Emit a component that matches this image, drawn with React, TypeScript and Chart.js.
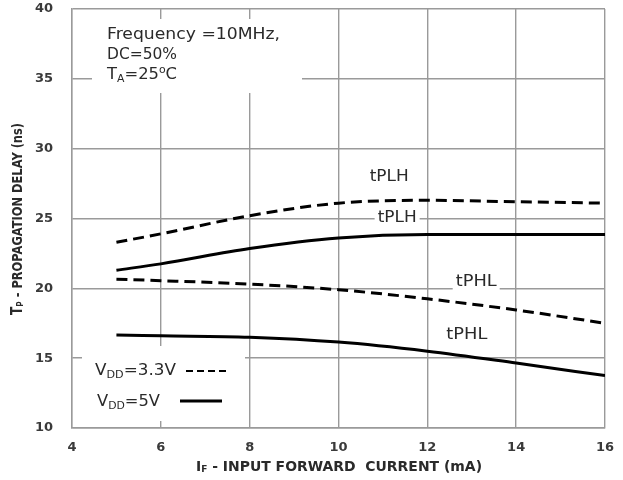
import React, { useEffect, useRef } from "react";
import { Chart, registerables } from "chart.js";

Chart.register(...registerables);

const currents = [5, 6, 8, 10, 12, 14, 16];
const tplh33 = [23.3, 23.9, 25.2, 26.1, 26.3, 26.2, 26.1];
const tplh5 = [21.3, 21.75, 22.85, 23.6, 23.85, 23.85, 23.85];
const tphl33 = [20.65, 20.55, 20.3, 19.9, 19.25, 18.45, 17.5];
const tphl5 = [16.65, 16.6, 16.5, 16.15, 15.5, 14.65, 13.75];

const xTicks = [4, 6, 8, 10, 12, 14, 16];
const yTicks = [10, 15, 20, 25, 30, 35, 40];

const curveLabels = [
  { text: "tPLH", x: 11.14, y: 27.97, w: 39 },
  { text: "tPLH", x: 11.32, y: 25.03, w: 39 },
  { text: "tPHL", x: 13.1, y: 20.45, w: 41 },
  { text: "tPHL", x: 12.89, y: 16.66, w: 41 },
];

const FONT = '"DejaVu Sans", Verdana, sans-serif';
const TEXT = "#2a2a2a";
const GRID = "#9a9a9a";

type Part = { t: string; size: number; bold?: boolean; dy?: number };

function richWidth(ctx: CanvasRenderingContext2D, parts: Part[]) {
  let w = 0;
  for (const p of parts) {
    ctx.font = `${p.bold ? "bold " : ""}${p.size}px ${FONT}`;
    w += ctx.measureText(p.t).width;
  }
  return w;
}

// draws parts starting at (x, y) (left, middle), scaled horizontally to width w
function drawRich(
  ctx: CanvasRenderingContext2D,
  parts: Part[],
  x: number,
  y: number,
  w: number,
  color = TEXT
) {
  const nat = richWidth(ctx, parts);
  const s = w / nat;
  ctx.save();
  ctx.translate(x, y);
  ctx.scale(s, 1);
  ctx.fillStyle = color;
  ctx.textBaseline = "middle";
  ctx.textAlign = "left";
  let cx = 0;
  for (const p of parts) {
    ctx.font = `${p.bold ? "bold " : ""}${p.size}px ${FONT}`;
    ctx.fillText(p.t, cx, p.dy || 0);
    cx += ctx.measureText(p.t).width;
  }
  ctx.restore();
}

const decor = {
  id: "decor",
  beforeDatasetsDraw(chart: any) {
    const ctx = chart.ctx as CanvasRenderingContext2D;
    const xs = chart.scales.x;
    const ys = chart.scales.y;
    ctx.save();
    ctx.fillStyle = "#ffffff";
    // annotation box & legend box (break grid lines)
    ctx.fillRect(92, 19, 210, 74);
    ctx.fillRect(82, 346, 163, 75);
    for (const l of curveLabels) {
      const px = xs.getPixelForValue(l.x);
      const py = ys.getPixelForValue(l.y);
      ctx.fillRect(px - l.w / 2 - 3, py - 9, l.w + 6, 18);
    }
    ctx.restore();
  },
  afterDatasetsDraw(chart: any) {
    const ctx = chart.ctx as CanvasRenderingContext2D;
    const xs = chart.scales.x;
    const ys = chart.scales.y;

    // annotation
    drawRich(ctx, [{ t: "Frequency =10MHz,", size: 15 }], 107, 35, 173);
    drawRich(ctx, [{ t: "DC=50%", size: 15 }], 107, 55, 70);
    drawRich(
      ctx,
      [
        { t: "T", size: 15 },
        { t: "A", size: 10, dy: 4 },
        { t: "=25", size: 15 },
        { t: "o", size: 10, dy: -5 },
        { t: "C", size: 15 },
      ],
      107,
      75,
      70
    );

    // curve labels
    for (const l of curveLabels) {
      const px = xs.getPixelForValue(l.x);
      const py = ys.getPixelForValue(l.y);
      drawRich(ctx, [{ t: l.text, size: 15 }], px - l.w / 2, py, l.w);
    }

    // legend
    drawRich(
      ctx,
      [
        { t: "V", size: 15 },
        { t: "DD", size: 10, dy: 4 },
        { t: "=3.3V", size: 15 },
      ],
      95,
      371,
      81
    );
    drawRich(
      ctx,
      [
        { t: "V", size: 15 },
        { t: "DD", size: 10, dy: 4 },
        { t: "=5V", size: 15 },
      ],
      97,
      402,
      63
    );
    ctx.save();
    ctx.strokeStyle = "#000";
    ctx.lineWidth = 2;
    ctx.setLineDash([7, 4]);
    ctx.beginPath();
    ctx.moveTo(186, 371);
    ctx.lineTo(229, 371);
    ctx.stroke();
    ctx.setLineDash([]);
    ctx.lineWidth = 3;
    ctx.beginPath();
    ctx.moveTo(180, 401);
    ctx.lineTo(222, 401);
    ctx.stroke();
    ctx.restore();

    // x title
    drawRich(
      ctx,
      [
        { t: "I", size: 14, bold: true },
        { t: "F", size: 9, bold: true, dy: 3 },
        { t: " - INPUT FORWARD  CURRENT (mA)", size: 14, bold: true },
      ],
      196,
      467,
      286
    );
    // y title (rotated)
    ctx.save();
    ctx.translate(18, 315);
    ctx.rotate(-Math.PI / 2);
    drawRich(
      ctx,
      [
        { t: "T", size: 15, bold: true },
        { t: "P", size: 9, bold: true, dy: 3 },
        { t: " - PROPAGATION DELAY (ns)", size: 14, bold: true },
      ],
      0,
      0,
      192
    );
    ctx.restore();
  },
};

export default function App() {
  const ref = useRef<HTMLCanvasElement>(null);
  useEffect(() => {
    document.body.style.margin = "0";
    const mk = (ys: number[]) => currents.map((x, i) => ({ x, y: ys[i] }));
    const base = {
      pointRadius: 0,
      borderColor: "#000",
      cubicInterpolationMode: "monotone" as const,
      fill: false,
    };
    const chart = new Chart(ref.current!, {
      type: "line",
      data: {
        datasets: [
          { ...base, label: "tPLH 3.3V", data: mk(tplh33), borderWidth: 3, borderDash: [11, 6] },
          { ...base, label: "tPLH 5V", data: mk(tplh5), borderWidth: 3 },
          { ...base, label: "tPHL 3.3V", data: mk(tphl33), borderWidth: 3, borderDash: [11, 6] },
          { ...base, label: "tPHL 5V", data: mk(tphl5), borderWidth: 3 },
        ],
      },
      options: {
        responsive: false,
        animation: false,
        events: [],
        layout: { padding: { left: 0, top: 9, right: 18, bottom: 0 } },
        plugins: { legend: { display: false }, tooltip: { enabled: false } },
        scales: {
          x: {
            type: "linear",
            min: 4,
            max: 16,
            afterBuildTicks: (s: any) => {
              s.ticks = xTicks.map((v) => ({ value: v }));
            },
            afterFit: (s: any) => {
              s.height = 52;
            },
            grid: {
              color: GRID,
              lineWidth: 1.4,
              drawTicks: true,
              tickLength: 12,
              tickColor: "rgba(0,0,0,0)",
            },
            border: { color: GRID, width: 1.4 },
            ticks: {
              padding: 0,
              color: "#3a3a3a",
              font: { family: FONT, size: 13, weight: "bold" },
            },
          },
          y: {
            type: "linear",
            min: 10,
            max: 40,
            afterBuildTicks: (s: any) => {
              s.ticks = yTicks.map((v) => ({ value: v }));
            },
            afterFit: (s: any) => {
              s.width = 72;
            },
            grid: {
              color: GRID,
              lineWidth: 1.4,
              drawTicks: true,
              tickLength: 19,
              tickColor: "rgba(0,0,0,0)",
            },
            border: { color: GRID, width: 1.4 },
            ticks: {
              padding: 0,
              color: "#3a3a3a",
              font: { family: FONT, size: 13, weight: "bold" },
            },
          },
        },
      },
      plugins: [decor],
    } as any);
    return () => chart.destroy();
  }, []);
  return <canvas ref={ref} width={623} height={480} style={{ display: "block" }} />;
}
